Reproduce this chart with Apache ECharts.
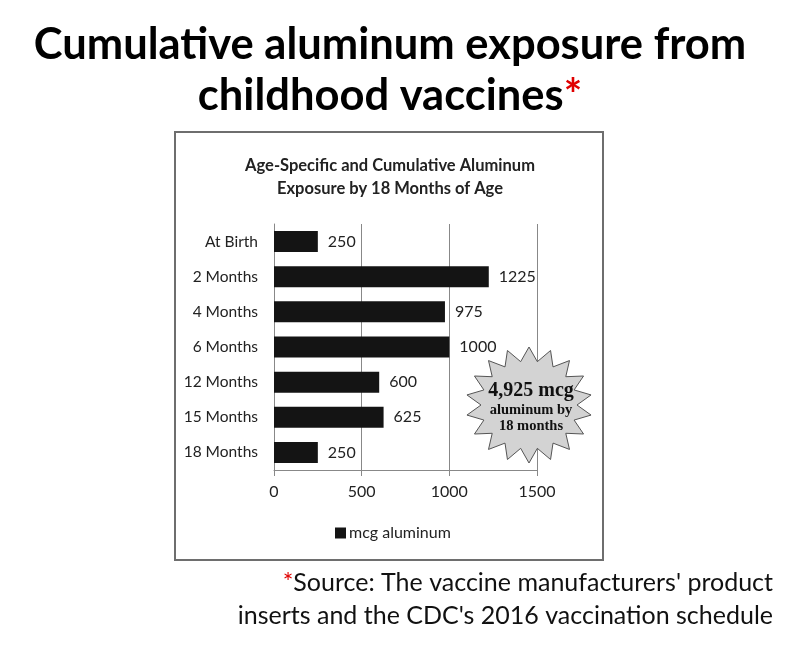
<!DOCTYPE html>
<html><head><meta charset="utf-8">
<script src="https://cdn.jsdelivr.net/npm/echarts@6/dist/echarts.min.js"></script>
<style>html,body{margin:0;padding:0;background:#fff}#c{width:800px;height:648px}</style>
</head><body><div id="c"></div>
<script>
const categories = ['At Birth','2 Months','4 Months','6 Months','12 Months','15 Months','18 Months'];
const values = [250,1225,975,1000,600,625,250];
const xTicks = [0,500,1000,1500];
const seriesName = 'mcg aluminum';
const mainTitle = ['Cumulative aluminum exposure from','childhood vaccines'];
const innerTitle = 'Age-Specific and Cumulative Aluminum\nExposure by 18 Months of Age';
const starText = ['4,925 mcg','aluminum by','18 months'];
const sourceLines = ['Source: The vaccine manufacturers\' product','inserts and the CDC\'s 2016 vaccination schedule'];

const chart = echarts.init(document.getElementById('c'));
const F = 'Lato, "Open Sans", sans-serif';

// star polygon (decoration)
function star(cx, cy, rxO, ryO, rxI, ryI, n){
  const pts=[];
  for(let i=0;i<2*n;i++){
    const a = -Math.PI/2 + i*Math.PI/n;
    const o = i%2===0;
    pts.push([cx + (o?rxO:rxI)*Math.cos(a), cy + (o?ryO:ryI)*Math.sin(a)]);
  }
  return pts;
}

chart.setOption({
  animation:false,
  backgroundColor:'#fff',
  title:{
    text: innerTitle, left: 385, top: 149, textAlign:'center',
    textStyle:{fontFamily:F, fontSize:16.5, fontWeight:'bold', color:'#222', lineHeight:23}
  },
  legend:{
    data:[seriesName], top:520, itemWidth:11, itemHeight:11, itemGap:4,
    left: 330, icon:'rect',
    textStyle:{fontFamily:F, fontSize:16, color:'#222', padding:[0,0,0,-2]}
  },
  grid:{left:274, top:224, width:263, height:246, containLabel:false},
  xAxis:{
    type:'value', min:0, max:1500, interval:500,
    axisLine:{show:true, lineStyle:{color:'#888', width:1}},
    axisTick:{show:true, length:6, lineStyle:{color:'#888'}},
    axisLabel:{fontFamily:F, fontSize:16, color:'#222', margin:14, formatter: v => String(v)},
    splitLine:{show:true, lineStyle:{color:'#888', width:1}}
  },
  yAxis:{
    type:'category', data:categories, inverse:true,
    axisLine:{show:true, lineStyle:{color:'#888'}},
    axisTick:{show:false},
    axisLabel:{fontFamily:F, fontSize:15.5, color:'#222', margin:16}
  },
  series:[{
    name:seriesName, type:'bar', data:values, barWidth:21,
    itemStyle:{color:'#141414'},
    label:{show:true, position:'right', distance:10, fontFamily:F, fontSize:16, color:'#222'}
  }],
  graphic:[
    {type:'rect', shape:{x:175, y:132, width:428, height:428}, style:{fill:'none', stroke:'#6e6e6e', lineWidth:2}, z:-10},
    {type:'text', x:390, y:45, style:{text:mainTitle[0], font:'bold 43.5px '+F, fill:'#000', textAlign:'center', textVerticalAlign:'middle'}},
    {type:'text', x:390, y:96, style:{rich:{a:{font:'bold 43.5px '+F, fill:'#000'}, r:{font:'bold 43.5px '+F, fill:'#e00000'}}, text:'{a|'+mainTitle[1]+'}{r|*}', textAlign:'center', textVerticalAlign:'middle'}},
    {type:'polygon', shape:{points: star(529,405,63,58,48,44,18)}, style:{fill:'#d3d3d3', stroke:'#555', lineWidth:1}, z:10},
    {type:'text', x:531, y:391, z:11, style:{text:starText[0], font:'bold 20px "Liberation Serif", serif', fill:'#111', textAlign:'center', textVerticalAlign:'middle'}},
    {type:'text', x:531, y:410, z:11, style:{text:starText[1], font:'bold 14.5px "Liberation Serif", serif', fill:'#111', textAlign:'center', textVerticalAlign:'middle'}},
    {type:'text', x:531, y:426, z:11, style:{text:starText[2], font:'bold 14.5px "Liberation Serif", serif', fill:'#111', textAlign:'center', textVerticalAlign:'middle'}},
    {type:'text', x:773, y:583, style:{rich:{r:{font:'25px '+F, fill:'#e00000'}, a:{font:'25px '+F, fill:'#111'}}, text:'{r|*}{a|'+sourceLines[0]+'}', textAlign:'right', textVerticalAlign:'middle'}},
    {type:'text', x:773, y:616, style:{text:sourceLines[1], font:'25px '+F, fill:'#111', textAlign:'right', textVerticalAlign:'middle'}}
  ]
});
</script></body></html>
